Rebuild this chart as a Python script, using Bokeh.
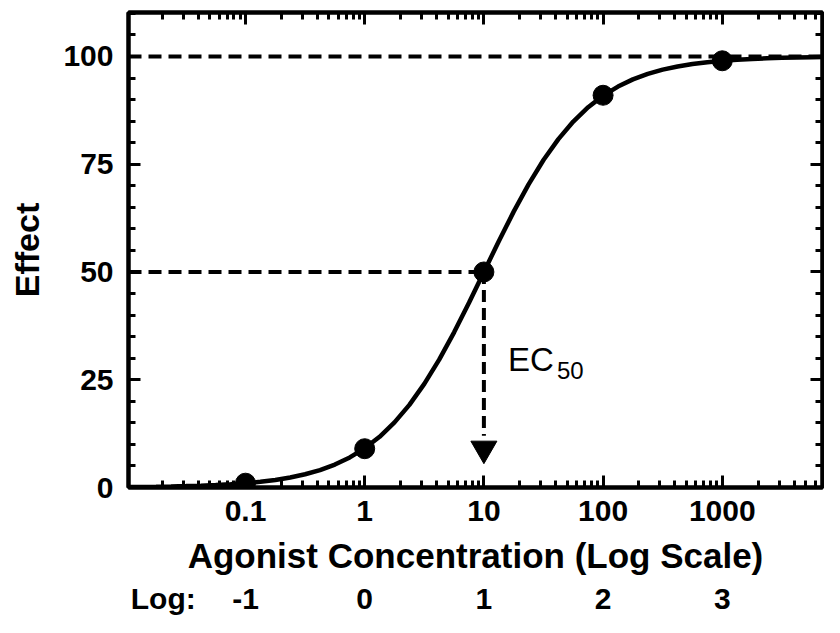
import math
from bokeh.plotting import figure
from bokeh.models import Range1d, LogAxis, LinearAxis, FixedTicker
from bokeh.core.properties import value
from bokeh.embed import file_html
from bokeh.resources import INLINE

# ---------------- data ----------------
conc = [0.1, 1, 10, 100, 1000]
effect = [1, 9, 50, 91, 99]
x_tick_labels = ["0.1", "1", "10", "100", "1000"]
log_labels = ["-1", "0", "1", "2", "3"]
log_row_title = "Log:"
y_ticks = [0, 25, 50, 75, 100]

# fitted curve (log10 concentration, effect)
curve_log = [-2.0, -1.875, -1.75, -1.625, -1.5, -1.375, -1.25, -1.125,
             -1.0, -0.875, -0.75, -0.625, -0.5, -0.375, -0.25, -0.125,
             0.0, 0.125, 0.25, 0.375, 0.5, 0.625, 0.75, 0.875,
             1.0, 1.125, 1.25, 1.375, 1.5, 1.625, 1.75, 1.875,
             2.0, 2.125, 2.25, 2.375, 2.5, 2.625, 2.75, 2.875,
             3.0, 3.125, 3.25, 3.375, 3.5, 3.625, 3.75, 3.875, 4.0]
curve_effect = [0.10, 0.13, 0.18, 0.24, 0.32, 0.42, 0.56, 0.74,
                0.99, 1.32, 1.75, 2.32, 3.07, 4.05, 5.33, 6.98,
                9.09, 11.77, 15.10, 19.17, 24.03, 29.66, 36.00, 42.85,
                50.0, 57.15, 64.00, 70.34, 75.97, 80.83, 84.90, 88.23,
                90.91, 93.02, 94.68, 95.95, 96.94, 97.68, 98.25, 98.68,
                99.01, 99.26, 99.44, 99.58, 99.68, 99.76, 99.82, 99.87, 99.90]

ec50 = 10
emax = 100
half_max = 50
arrow_tip = 6

# ---------------- layout ----------------
W, H = 824, 617
B_LEFT, B_RIGHT, B_TOP, B_BOTTOM = 128, 2, 12, 129
x_lo = 10 ** -1.9815
x_hi = 10 ** 3.8407
y_lo, y_hi = 0, 110.2
log_row_anchor = 10 ** -1.69

FONT = "Liberation Sans"
BLACK = "black"

p = figure(width=W, height=H, x_axis_type="log",
           x_range=Range1d(x_lo, x_hi), y_range=Range1d(y_lo, y_hi),
           output_backend="svg", toolbar_location=None,
           min_border_left=B_LEFT, min_border_right=B_RIGHT,
           min_border_top=B_TOP, min_border_bottom=B_BOTTOM)
p.grid.visible = False
p.outline_line_color = BLACK
p.outline_line_width = 4

frame_h = H - B_TOP - B_BOTTOM
px_per_y = frame_h / (y_hi - y_lo)

x_minor = [m * 10 ** k for k in range(-2, 4) for m in range(2, 10)]
x_minor = [v for v in x_minor if x_lo < v < x_hi]
y_minor = [v for v in range(0, 111, 5) if v not in y_ticks]


def style_axis(ax, labels=True):
    ax.axis_line_color = BLACK
    ax.axis_line_width = 4
    ax.major_tick_line_color = BLACK
    ax.minor_tick_line_color = BLACK
    ax.major_tick_line_width = 3
    ax.minor_tick_line_width = 3
    ax.major_tick_in = 12
    ax.major_tick_out = 0
    ax.minor_tick_in = 7
    ax.minor_tick_out = 0
    ax.major_label_text_font = FONT
    ax.major_label_text_font_style = "bold"
    ax.major_label_text_color = BLACK
    ax.major_label_text_font_size = "30px"
    if not labels:
        ax.major_label_text_font_size = "2px"
        ax.major_label_text_alpha = 0
        ax.major_label_standoff = 0


# bottom x axis
xax = p.xaxis[0]
xax.ticker = FixedTicker(ticks=conc, minor_ticks=x_minor)
xax.major_label_overrides = {c: t for c, t in zip(conc, x_tick_labels)}
style_axis(xax)
xax.major_label_standoff = 13
xax.axis_label = "Agonist Concentration (Log Scale)"
xax.axis_label_text_font = FONT
xax.axis_label_text_font_style = "bold"
xax.axis_label_text_font_size = "35px"
xax.axis_label_text_color = BLACK
xax.axis_label_standoff = 12

# left y axis
yax = p.yaxis[0]
yax.ticker = FixedTicker(ticks=y_ticks, minor_ticks=y_minor)
style_axis(yax)
yax.major_label_standoff = 15
yax.axis_label = "Effect"
yax.axis_label_text_font = FONT
yax.axis_label_text_font_style = "bold"
yax.axis_label_text_font_size = "34px"
yax.axis_label_text_color = BLACK
yax.axis_label_standoff = 14

# top and right axes: inward ticks only
top = LogAxis(ticker=FixedTicker(ticks=conc, minor_ticks=x_minor))
top.major_label_overrides = {c: "." for c in conc}
style_axis(top, labels=False)
p.add_layout(top, "above")
right = LinearAxis(ticker=FixedTicker(ticks=y_ticks, minor_ticks=y_minor))
right.major_label_overrides = {t: "." for t in y_ticks}
style_axis(right, labels=False)
p.add_layout(right, "right")

# "Log:" row as a second bottom axis
log_ticks = [log_row_anchor] + conc
log_axis = LogAxis(ticker=FixedTicker(ticks=log_ticks, minor_ticks=[]))
log_axis.major_label_overrides = {t: s for t, s in zip(log_ticks, [log_row_title] + log_labels)}
log_axis.axis_line_color = None
log_axis.major_tick_line_color = None
log_axis.minor_tick_line_color = None
log_axis.major_tick_in = 0
log_axis.major_tick_out = 0
log_axis.minor_tick_in = 0
log_axis.minor_tick_out = 0
log_axis.major_label_text_font = FONT
log_axis.major_label_text_font_style = "bold"
log_axis.major_label_text_font_size = "30px"
log_axis.major_label_text_color = BLACK
log_axis.major_label_standoff = 4
p.add_layout(log_axis, "below")

# reference lines (drawn as glyphs)
p.segment(x0=[x_lo, x_lo], y0=[emax, half_max], x1=[x_hi, ec50], y1=[emax, half_max],
          line_color=BLACK, line_width=4, line_dash="13 7")

# curve and points
p.line([10 ** v for v in curve_log], curve_effect, line_color=BLACK, line_width=4.5)
p.scatter(conc, effect, size=20, fill_color=BLACK, line_color=BLACK)

# EC50 arrow: dashed shaft plus solid triangular head
HEAD = 26
head_center = arrow_tip + (HEAD / 2) / px_per_y
shaft_end = arrow_tip + HEAD / px_per_y
p.segment(x0=[ec50], y0=[half_max], x1=[ec50], y1=[shaft_end],
          line_color=BLACK, line_width=4, line_dash="12 6")
p.scatter([ec50], [head_center], marker="inverted_triangle", size=HEAD,
          fill_color=BLACK, line_color=BLACK, line_width=1)

# EC50 text
p.text(x=[ec50], y=[29.6], text=["EC"], x_offset=24,
       text_font=value(FONT), text_font_size=value("33px"),
       text_color=BLACK, text_baseline="middle", text_align="left")
p.text(x=[ec50], y=[27.1], text=["50"], x_offset=73,
       text_font=value(FONT), text_font_size=value("24px"),
       text_color=BLACK, text_baseline="middle", text_align="left")

open("out.html", "w").write(file_html(p, INLINE))
